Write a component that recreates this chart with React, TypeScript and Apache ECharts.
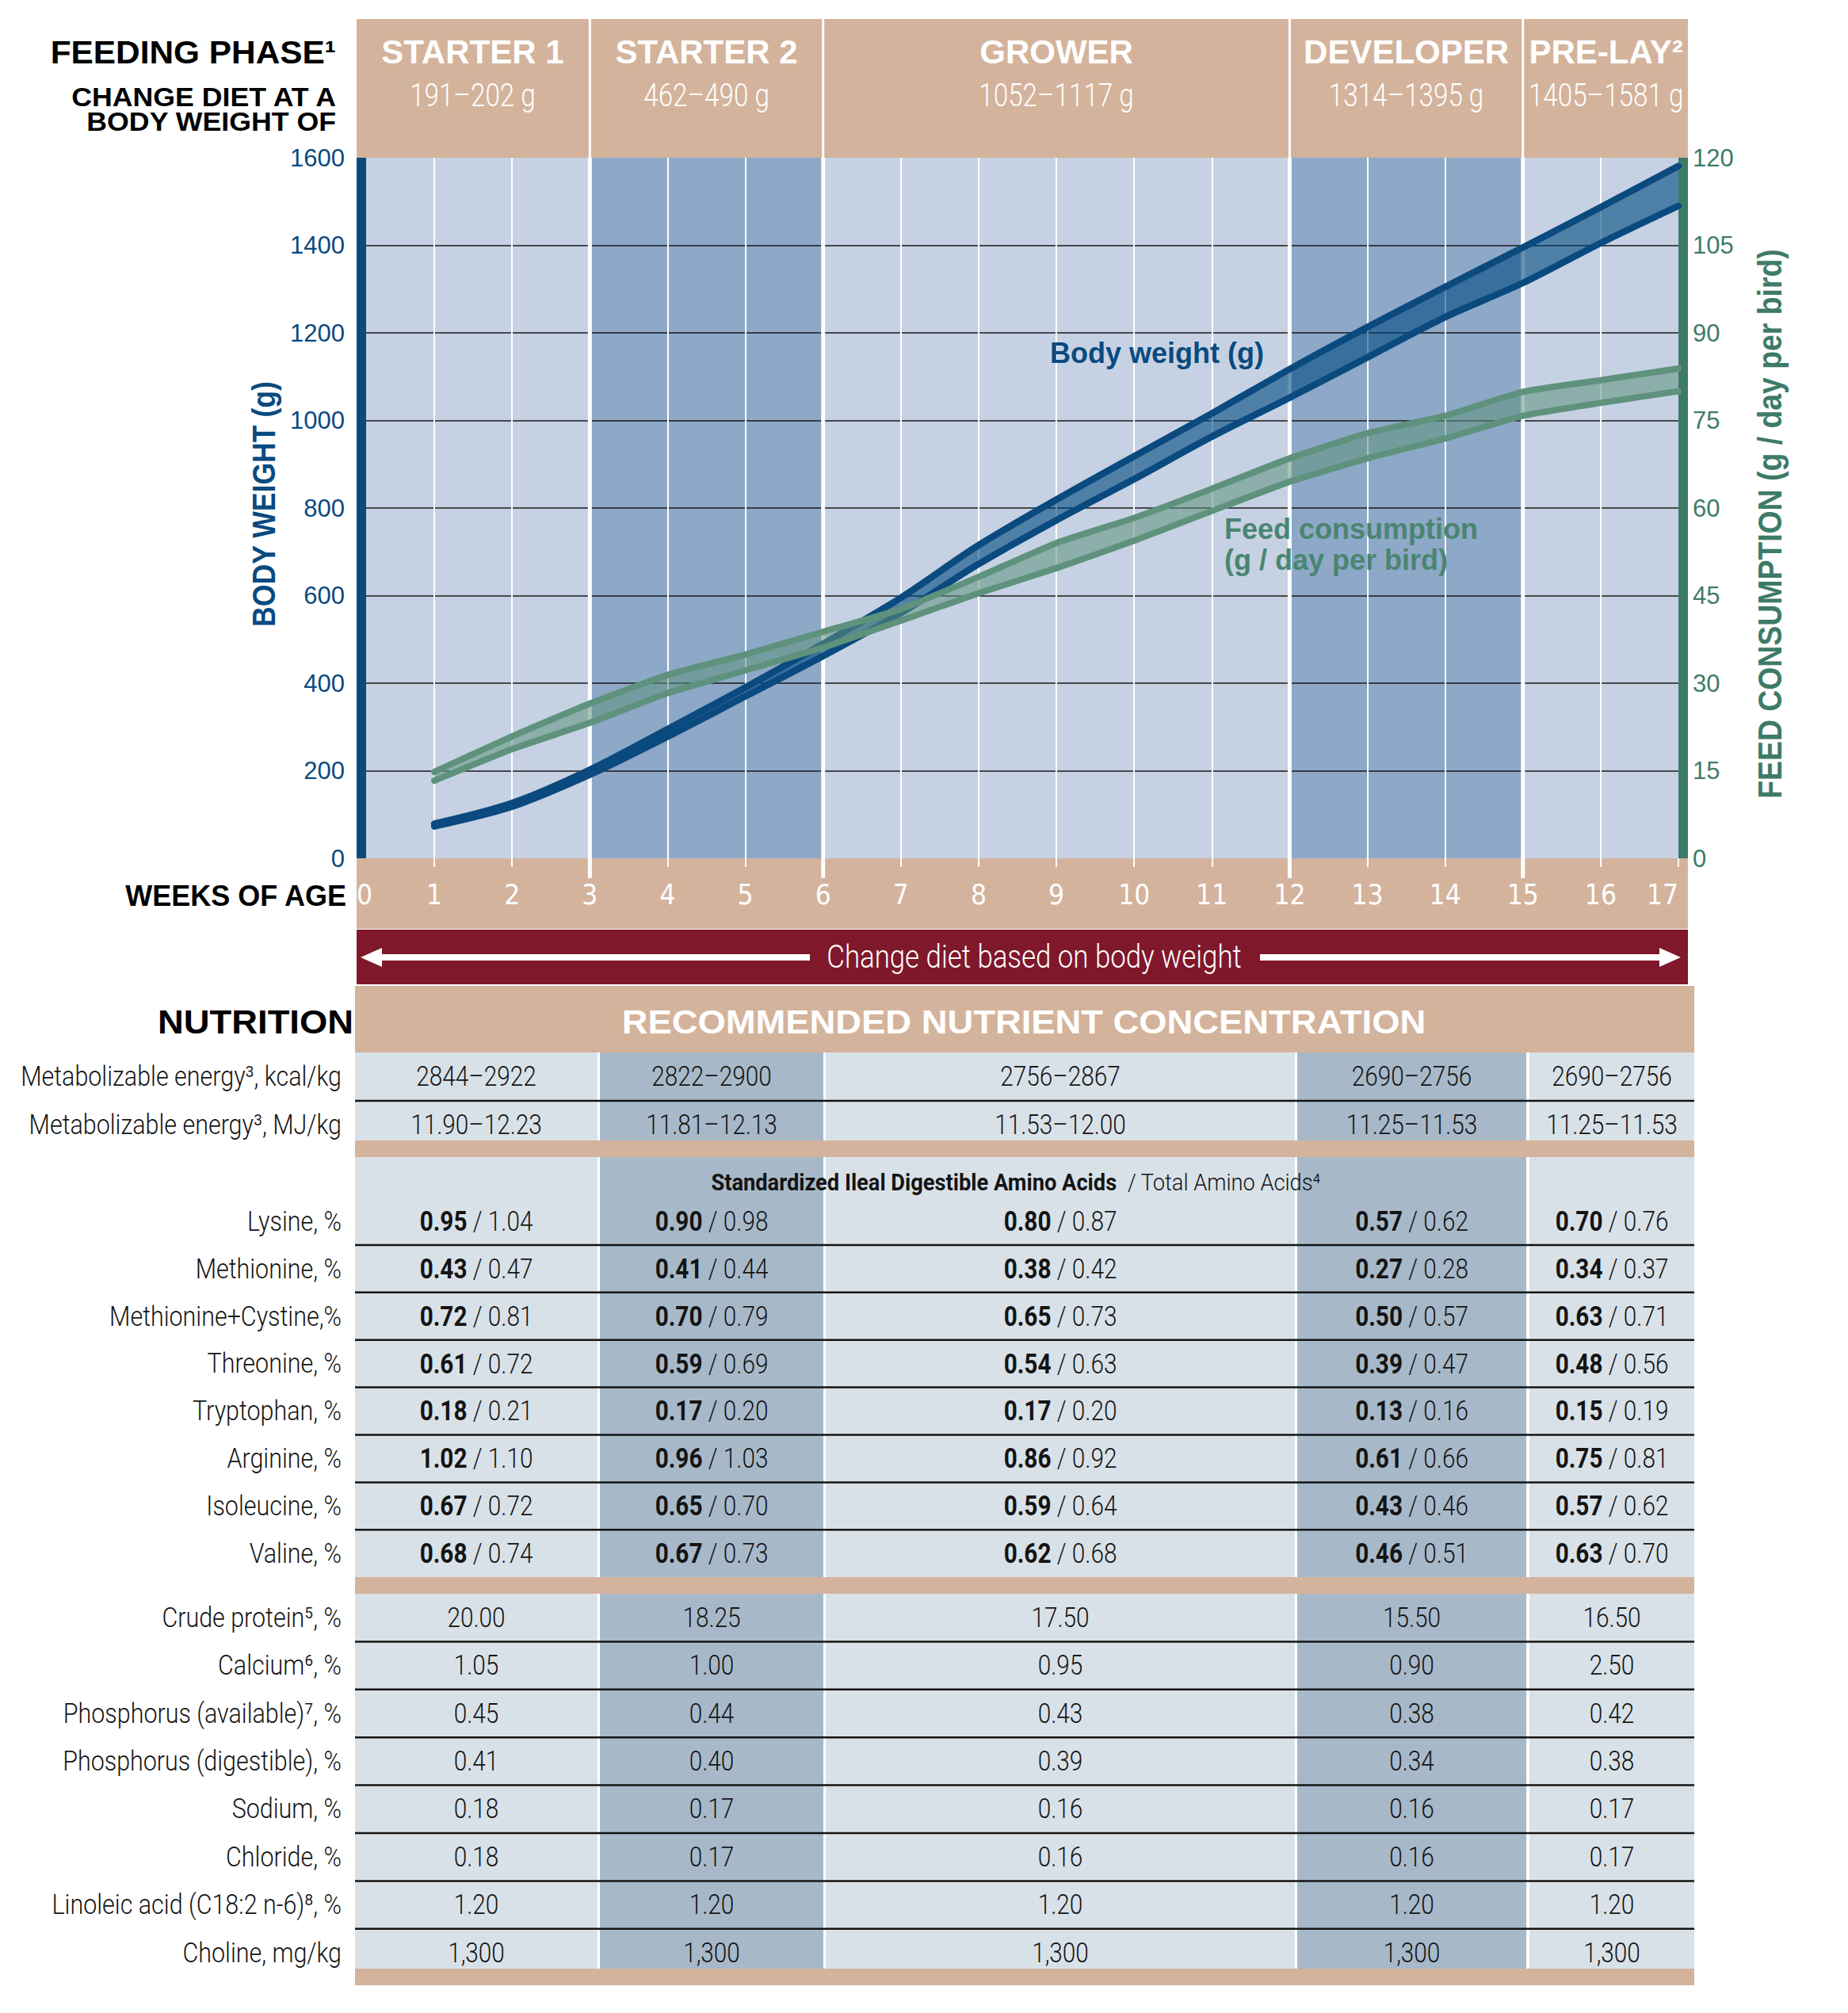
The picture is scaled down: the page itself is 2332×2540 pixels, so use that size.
import React, { useEffect, useRef } from "react";
import * as echarts from "echarts";

// ---------------- data ----------------
const weekTicks = ["0", "1", "2", "3", "4", "5", "6", "7", "8", "9", "10", "11", "12", "13", "14", "15", "16", "17"];
const weeks = [1, 2, 3, 4, 5, 6, 7, 8, 9, 10, 11, 12, 13, 14, 15, 16, 17];
const bodyWeightLow = [73, 118, 191, 278, 370, 462, 560, 672, 772, 866, 963, 1052, 1144, 1236, 1314, 1405, 1490];
const bodyWeightHigh = [79, 126, 202, 295, 390, 490, 595, 715, 819, 918, 1016, 1117, 1213, 1305, 1395, 1487, 1581];
const feedLow = [13.3, 18.7, 23.2, 28.3, 32.2, 36.1, 40.7, 45.4, 49.7, 54.4, 59.5, 64.5, 68.5, 71.9, 75.8, 78.0, 80.0];
const feedHigh = [14.8, 20.9, 26.5, 31.4, 34.9, 38.8, 42.7, 48.2, 54.0, 58.3, 63.3, 68.5, 72.8, 75.8, 79.9, 81.9, 83.9];

const phaseNames = ["STARTER 1", "STARTER 2", "GROWER", "DEVELOPER", "PRE-LAY²"];
const phaseWeights = ["191–202 g", "462–490 g", "1052–1117 g", "1314–1395 g", "1405–1581 g"];
const phaseBounds = [0, 3, 6, 12, 15, 17];

const energyLabels = ["Metabolizable energy³, kcal/kg", "Metabolizable energy³, MJ/kg"];
const energyKcal = ["2844–2922", "2822–2900", "2756–2867", "2690–2756", "2690–2756"];
const energyMJ = ["11.90–12.23", "11.81–12.13", "11.53–12.00", "11.25–11.53", "11.25–11.53"];

const aminoLabels = ["Lysine, %", "Methionine, %", "Methionine+Cystine,%", "Threonine, %", "Tryptophan, %", "Arginine, %", "Isoleucine, %", "Valine, %"];
const aminoDigestible = [
  ["0.95", "0.90", "0.80", "0.57", "0.70"],
  ["0.43", "0.41", "0.38", "0.27", "0.34"],
  ["0.72", "0.70", "0.65", "0.50", "0.63"],
  ["0.61", "0.59", "0.54", "0.39", "0.48"],
  ["0.18", "0.17", "0.17", "0.13", "0.15"],
  ["1.02", "0.96", "0.86", "0.61", "0.75"],
  ["0.67", "0.65", "0.59", "0.43", "0.57"],
  ["0.68", "0.67", "0.62", "0.46", "0.63"],
];
const aminoTotal = [
  ["1.04", "0.98", "0.87", "0.62", "0.76"],
  ["0.47", "0.44", "0.42", "0.28", "0.37"],
  ["0.81", "0.79", "0.73", "0.57", "0.71"],
  ["0.72", "0.69", "0.63", "0.47", "0.56"],
  ["0.21", "0.20", "0.20", "0.16", "0.19"],
  ["1.10", "1.03", "0.92", "0.66", "0.81"],
  ["0.72", "0.70", "0.64", "0.46", "0.62"],
  ["0.74", "0.73", "0.68", "0.51", "0.70"],
];

const otherLabels = [
  "Crude protein⁵, %",
  "Calcium⁶, %",
  "Phosphorus (available)⁷, %",
  "Phosphorus (digestible), %",
  "Sodium, %",
  "Chloride, %",
  "Linoleic acid (C18:2 n-6)⁸, %",
  "Choline, mg/kg",
];
const otherValues = [
  ["20.00", "18.25", "17.50", "15.50", "16.50"],
  ["1.05", "1.00", "0.95", "0.90", "2.50"],
  ["0.45", "0.44", "0.43", "0.38", "0.42"],
  ["0.41", "0.40", "0.39", "0.34", "0.38"],
  ["0.18", "0.17", "0.16", "0.16", "0.17"],
  ["0.18", "0.17", "0.16", "0.16", "0.17"],
  ["1.20", "1.20", "1.20", "1.20", "1.20"],
  ["1,300", "1,300", "1,300", "1,300", "1,300"],
];

// ---------------- styles / layout ----------------
const C = {
  tan: "#d4b39c",
  red: "#7f182b",
  plotLight: "#c6d2e3",
  plotDark: "#8ea8c8",
  blue: "#0a4a7f",
  blueFill: "rgba(0,74,128,0.6)",
  greenAxis: "#3e7b67",
  greenLine: "#5f927d",
  greenFill: "rgba(94,145,125,0.55)",
  greenText: "#4a8571",
  cellLight: "#d9e1e8",
  cellDark: "#a7b9c9",
  ink: "#141414",
};
const FONT = '"Liberation Sans", Arial, sans-serif';
const LIGHT = 'Roboto, "Liberation Sans", "DejaVu Sans", sans-serif';
const NARROW = '"Liberation Sans Narrow", "DejaVu Sans Condensed", "Liberation Sans", sans-serif';

const GRID = { left: 450, top: 199, width: 1668, height: 884 };

type TOpts = {
  size: number;
  fill: string;
  family?: string;
  weight?: string | number;
  align?: string;
  valign?: string;
  scaleX?: number;
  rotation?: number;
  rich?: any;
};
function text(x: number, y: number, s: string, o: TOpts) {
  const align = o.align || "center";
  const valign = o.valign || "middle";
  return {
    type: "text",
    x,
    y,
    z: 10,
    silent: true,
    scaleX: o.scaleX ?? 1,
    scaleY: 1,
    rotation: o.rotation ?? 0,
    style: {
      text: s,
      fill: o.fill,
      fontSize: o.size,
      fontFamily: o.family || FONT,
      fontWeight: o.weight || "normal",
      align,
      verticalAlign: valign,
      textAlign: align,
      textVerticalAlign: valign,
      rich: o.rich,
    },
  };
}
function rect(x: number, y: number, w: number, h: number, fill: string, z: number) {
  return { type: "rect", z, silent: true, shape: { x, y, width: w, height: h }, style: { fill } };
}
function hline(x1: number, x2: number, y: number, stroke: string, w: number, z: number) {
  return { type: "line", z, silent: true, shape: { x1, y1: y, x2, y2: y }, style: { stroke, lineWidth: w } };
}

function buildGraphics(px: (w: number) => number) {
  const els: any[] = [];
  const plotTop = GRID.top;
  const plotBottom = GRID.top + GRID.height;
  const xEnd = px(17) + 12;

  // top phase header + plot backgrounds
  for (let i = 0; i < phaseNames.length; i++) {
    const a = px(phaseBounds[i]) + (i > 0 ? 1.5 : 0);
    const b = i < phaseNames.length - 1 ? px(phaseBounds[i + 1]) - 1.5 : xEnd;
    els.push(rect(a, 24, b - a, plotTop - 24, C.tan, -1));
    const cx = (a + b) / 2;
    els.push(text(cx, 65, phaseNames[i], { size: 42, weight: "bold", fill: "#ffffff" }));
    els.push(text(cx, 120, phaseWeights[i], { size: 40, weight: 300, family: LIGHT, fill: "#ffffff", scaleX: 0.83 }));
    const p0 = px(phaseBounds[i]);
    const p1 = px(phaseBounds[i + 1]);
    els.push(rect(p0, plotTop, p1 - p0, GRID.height, i % 2 ? C.plotDark : C.plotLight, -1));
  }
  // phase boundary lines (plot + tick extension)
  for (let i = 1; i < phaseBounds.length - 1; i++) {
    const x = px(phaseBounds[i]);
    els.push({ type: "line", z: 1, silent: true, shape: { x1: x, y1: plotTop, x2: x, y2: plotBottom + 25 }, style: { stroke: "#ffffff", lineWidth: 5 } });
  }
  // axis bars
  els.push(rect(px(0), plotTop, 12, GRID.height, C.blue, 1));
  els.push(rect(px(17), plotTop, 12, GRID.height, C.greenAxis, 1));

  // x-axis band + red band
  els.push(rect(px(0), plotBottom, xEnd - px(0), 89, C.tan, -1));
  els.push(rect(px(0), plotBottom + 90, xEnd - px(0), 69, C.red, -1));
  const ay = plotBottom + 125;
  els.push(hline(470, 1022, ay, "#ffffff", 8, 10));
  els.push({ type: "polygon", z: 10, silent: true, shape: { points: [[455, ay], [482, ay - 12], [482, ay + 12]] }, style: { fill: "#ffffff" } });
  els.push(hline(1590, 2100, ay, "#ffffff", 8, 10));
  els.push({ type: "polygon", z: 10, silent: true, shape: { points: [[2121, ay], [2094, ay - 12], [2094, ay + 12]] }, style: { fill: "#ffffff" } });
  els.push(text(1305, ay - 1, "Change diet based on body weight", { size: 40, weight: 300, family: LIGHT, fill: "#ffffff", scaleX: 0.87 }));

  // left header texts
  els.push(text(424, 66, "FEEDING PHASE¹", { size: 40, weight: "bold", fill: "#000", align: "right", scaleX: 1.06 }));
  els.push(text(424, 122, "CHANGE DIET AT A", { size: 34, weight: "bold", fill: "#000", align: "right", scaleX: 1.05 }));
  els.push(text(424, 153, "BODY WEIGHT OF", { size: 34, weight: "bold", fill: "#000", align: "right", scaleX: 1.05 }));

  // axis titles
  els.push(text(333, 636, "BODY WEIGHT (g)", { size: 40, weight: "bold", fill: C.blue, rotation: Math.PI / 2, scaleX: 0.89 }));
  els.push(text(2233, 661, "FEED CONSUMPTION (g / day per bird)", { size: 42, weight: "bold", fill: C.greenAxis, rotation: Math.PI / 2, scaleX: 0.89 }));
  els.push(text(437, 1130, "WEEKS OF AGE", { size: 36, weight: "bold", fill: "#000", align: "right" }));

  // series labels
  els.push(text(1325, 445, "Body weight (g)", { size: 36, weight: "bold", fill: C.blue, align: "left" }));
  els.push(text(1545, 667, "Feed consumption", { size: 36, weight: "bold", fill: C.greenText, align: "left" }));
  els.push(text(1545, 706, "(g / day per bird)", { size: 36, weight: "bold", fill: C.greenText, align: "left" }));

  // ---------------- table ----------------
  const T0 = 448;
  const T1 = 2138;
  const colEdges = [
    [448, 754],
    [757, 1039],
    [1042, 1634],
    [1637, 1926],
    [1930, 2138],
  ];
  const colCenter = colEdges.map((e) => (e[0] + e[1]) / 2);
  colEdges.forEach((e, i) => els.push(rect(e[0], 1328, e[1] - e[0], 1177, i % 2 ? C.cellDark : C.cellLight, -2)));
  els.push(rect(T0, 1244, T1 - T0, 84, C.tan, -1));
  els.push(text(446, 1289, "NUTRITION", { size: 42, weight: "bold", fill: "#000", align: "right", scaleX: 1.08 }));
  els.push(text(1292, 1289, "RECOMMENDED NUTRIENT CONCENTRATION", { size: 42, weight: "bold", fill: "#ffffff", scaleX: 1.08 }));
  [1439, 1990, 2484].forEach((y) => els.push(rect(T0, y, T1 - T0, 21, C.tan, -1)));

  const labelX = 431;
  const lblOpts = { size: 35, weight: 300, family: LIGHT, fill: C.ink, align: "right", scaleX: 0.87 };
  const valOpts = { size: 35, weight: 300, family: LIGHT, fill: C.ink, scaleX: 0.85 };
  const richVal = {
    b: { fontSize: 35, fontWeight: "bold", fontFamily: LIGHT, fill: C.ink },
    r: { fontSize: 35, fontWeight: 300, fontFamily: LIGHT, fill: C.ink },
  };

  // energy rows
  const eTops = [1328, 1389];
  const eVals = [energyKcal, energyMJ];
  els.push(hline(T0, T1, 1389, C.ink, 2.5, -1));
  eTops.forEach((top, r) => {
    els.push(text(labelX, top + 30, energyLabels[r], lblOpts));
    eVals[r].forEach((v, c) => els.push(text(colCenter[c], top + 30, v, valOpts)));
  });

  // amino header
  els.push(
    text(1282, 1492, "{b|Standardized Ileal Digestible Amino Acids}{r|  / Total Amino Acids⁴}", {
      size: 29,
      fill: C.ink,
      family: LIGHT,
      scaleX: 0.94,
      rich: {
        b: { fontSize: 29, fontWeight: "bold", fontFamily: LIGHT, fill: C.ink },
        r: { fontSize: 29, fontWeight: 300, fontFamily: LIGHT, fill: C.ink },
      },
    })
  );
  const aStep = 59.9;
  aminoLabels.forEach((lab, r) => {
    const top = 1511 + r * aStep;
    if (r > 0) els.push(hline(T0, T1, top, C.ink, 2.5, -1));
    els.push(text(labelX, top + 30, lab, lblOpts));
    aminoDigestible[r].forEach((d, c) =>
      els.push(
        text(colCenter[c], top + 30, `{b|${d}}{r| / ${aminoTotal[r][c]}}`, {
          size: 35,
          fill: C.ink,
          family: LIGHT,
          scaleX: 0.85,
          rich: richVal,
        })
      )
    );
  });

  const oStep = 60.4;
  otherLabels.forEach((lab, r) => {
    const top = 2011 + r * oStep;
    if (r > 0) els.push(hline(T0, T1, top, C.ink, 2.5, -1));
    els.push(text(labelX, top + 30, lab, lblOpts));
    otherValues[r].forEach((v, c) => els.push(text(colCenter[c], top + 30, v, valOpts)));
  });

  return els;
}

function baseOption(): any {
  const bwLow = weeks.map((w, i) => [w, bodyWeightLow[i]]);
  const bwSpan = weeks.map((w, i) => [w, bodyWeightHigh[i] - bodyWeightLow[i]]);
  const fLow = weeks.map((w, i) => [w, feedLow[i]]);
  const fSpan = weeks.map((w, i) => [w, +(feedHigh[i] - feedLow[i]).toFixed(2)]);
  const blueLine = { color: C.blue, width: 8.5, cap: "round", join: "round" };
  const greenLine = { color: C.greenLine, width: 8, cap: "round", join: "round" };
  return {
    animation: false,
    grid: { left: GRID.left, top: GRID.top, width: GRID.width, height: GRID.height, containLabel: false },
    xAxis: {
      type: "category",
      data: weekTicks,
      boundaryGap: false,
      position: "bottom",
      axisLine: { show: false },
      axisTick: { show: true, interval: (i: number) => i !== 0, length: 11, lineStyle: { color: "#ffffff", width: 2 } },
      axisLabel: {
        interval: 0,
        color: "#ffffff",
        fontSize: 35,
        fontFamily: NARROW,
        margin: 28,
        alignMinLabel: "left",
        alignMaxLabel: "right",
      },
      splitLine: { show: true, interval: 0, showMinLine: false, showMaxLine: false, lineStyle: { color: "#ffffff", width: 2 } },
    },
    yAxis: [
      {
        type: "value",
        min: 0,
        max: 1600,
        interval: 200,
        position: "left",
        axisLine: { show: false },
        axisTick: { show: false },
        axisLabel: { color: C.blue, fontSize: 31, fontFamily: FONT, margin: 15, formatter: (v: number) => String(v) },
        splitLine: { show: true, showMinLine: false, showMaxLine: false, lineStyle: { color: "#1a1a1a", width: 1.6 } },
      },
      {
        type: "value",
        min: 0,
        max: 120,
        interval: 15,
        position: "right",
        axisLine: { show: false },
        axisTick: { show: false },
        axisLabel: { color: C.greenAxis, fontSize: 31, fontFamily: FONT, margin: 18, formatter: (v: number) => String(v) },
        splitLine: { show: false },
      },
    ],
    series: [
      { name: "Body weight low", type: "line", data: bwLow, stack: "bw", smooth: 0.3, symbol: "none", silent: true, z: 4, lineStyle: blueLine },
      {
        name: "Body weight (g)",
        type: "line",
        data: bwSpan,
        stack: "bw",
        smooth: 0.3,
        symbol: "none",
        silent: true,
        z: 3,
        lineStyle: blueLine,
        areaStyle: { color: C.blueFill, opacity: 1 },
      },
      { name: "Feed low", type: "line", yAxisIndex: 1, data: fLow, stack: "feed", smooth: 0.15, symbol: "none", silent: true, z: 6, lineStyle: greenLine },
      {
        name: "Feed consumption (g / day per bird)",
        type: "line",
        yAxisIndex: 1,
        data: fSpan,
        stack: "feed",
        smooth: 0.15,
        symbol: "none",
        silent: true,
        z: 5,
        lineStyle: greenLine,
        areaStyle: { color: C.greenFill, opacity: 1 },
      },
    ],
  };
}

export default function App() {
  const ref = useRef<HTMLDivElement>(null);
  useEffect(() => {
    if (!ref.current) return;
    const chart = echarts.init(ref.current, null, { renderer: "svg", width: 2332, height: 2540 });
    chart.setOption(baseOption());
    const px = (w: number) => {
      const p = chart.convertToPixel({ gridIndex: 0 }, [w, 0]) as any;
      return Array.isArray(p) && isFinite(p[0]) ? p[0] : GRID.left + (w / 17) * GRID.width;
    };
    chart.setOption({ graphic: { elements: buildGraphics(px) } });
    return () => chart.dispose();
  }, []);
  return <div ref={ref} style={{ position: "absolute", left: 0, top: 0, width: 2332, height: 2540 }} />;
}
